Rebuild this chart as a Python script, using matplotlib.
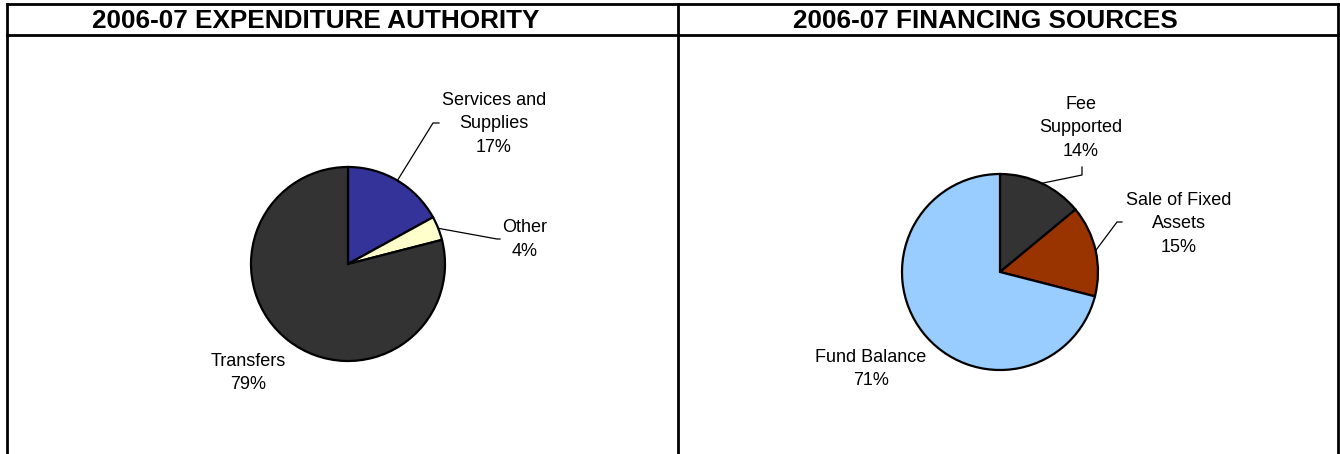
import matplotlib
matplotlib.use("Agg")
import matplotlib.pyplot as plt
import numpy as np

# --- chart data ---
titles = ["2006-07 EXPENDITURE AUTHORITY", "2006-07 FINANCING SOURCES"]

exp_labels = ["Services and\nSupplies", "Other", "Transfers"]
exp_pct = [17, 4, 79]
exp_colors = ["#333399", "#FFFFCC", "#333333"]

fin_labels = ["Fee\nSupported", "Sale of Fixed\nAssets", "Fund Balance"]
fin_pct = [14, 15, 71]
fin_colors = ["#333333", "#993300", "#99CCFF"]

# --- layout (pixels, measured from top-left) ---
W, H = 1340, 454
FONT = "Liberation Sans"


def Y(y):
    return H - y


# text_pos = (center x, baseline of the last line)
panels = [
    dict(title=titles[0], title_x=316, labels=exp_labels, pct=exp_pct, colors=exp_colors,
         center=(348, 264), radius=97,
         text_pos=[(494, 152), (525, 256), (248, 389)],
         elbows=[[(433, 123), (439, 123)], [(497, 239), (500, 239)], None]),
    dict(title=titles[1], title_x=985, labels=fin_labels, pct=fin_pct, colors=fin_colors,
         center=(1000, 272), radius=98,
         text_pos=[(1081, 156), (1179, 252), (871, 385)],
         elbows=[[(1082, 175), (1082, 167)], [(1117, 222), (1122, 222)], None]),
]

fig = plt.figure(figsize=(W / 100, H / 100), dpi=100)
ax = fig.add_axes([0, 0, 1, 1])

for p in panels:
    cx, cy = p["center"]
    r = p["radius"]
    ax.pie(p["pct"], colors=p["colors"], startangle=90, counterclock=False,
           center=(cx, Y(cy)), radius=r, frame=True,
           wedgeprops=dict(edgecolor="black", linewidth=1.6))

    # labels + leader lines
    cum = np.cumsum([0] + p["pct"]) / sum(p["pct"])
    for i, lab in enumerate(p["labels"]):
        tx, ty = p["text_pos"][i]
        ax.text(tx, Y(ty), f"{lab}\n{p['pct'][i]}%", ha="center", va="baseline",
                fontsize=13, family=FONT, linespacing=1.5, color="black")
        if p["elbows"][i] is not None:
            mid = np.deg2rad(90 - 360 * (cum[i] + cum[i + 1]) / 2)
            sx, sy = cx + r * np.cos(mid), Y(cy) + r * np.sin(mid)
            xs = [sx] + [e[0] for e in p["elbows"][i]]
            ys = [sy] + [Y(e[1]) for e in p["elbows"][i]]
            ax.plot(xs, ys, color="black", lw=0.9)

    ax.text(p["title_x"], Y(28), p["title"], ha="center", va="baseline",
            fontsize=18.8, family=FONT, fontweight="bold")

# frame lines
lw = 2.0
ax.plot([7, 1338], [Y(4), Y(4)], color="black", lw=lw, solid_capstyle="projecting")
ax.plot([7, 1338], [Y(35), Y(35)], color="black", lw=lw)
for x in [7, 678, 1338]:
    ax.plot([x, x], [Y(4), Y(H + 5)], color="black", lw=lw, solid_capstyle="projecting")

ax.set_xlim(0, W)
ax.set_ylim(0, H)
ax.set_aspect("equal")
ax.axis("off")

fig.savefig("out.png", dpi=100)
